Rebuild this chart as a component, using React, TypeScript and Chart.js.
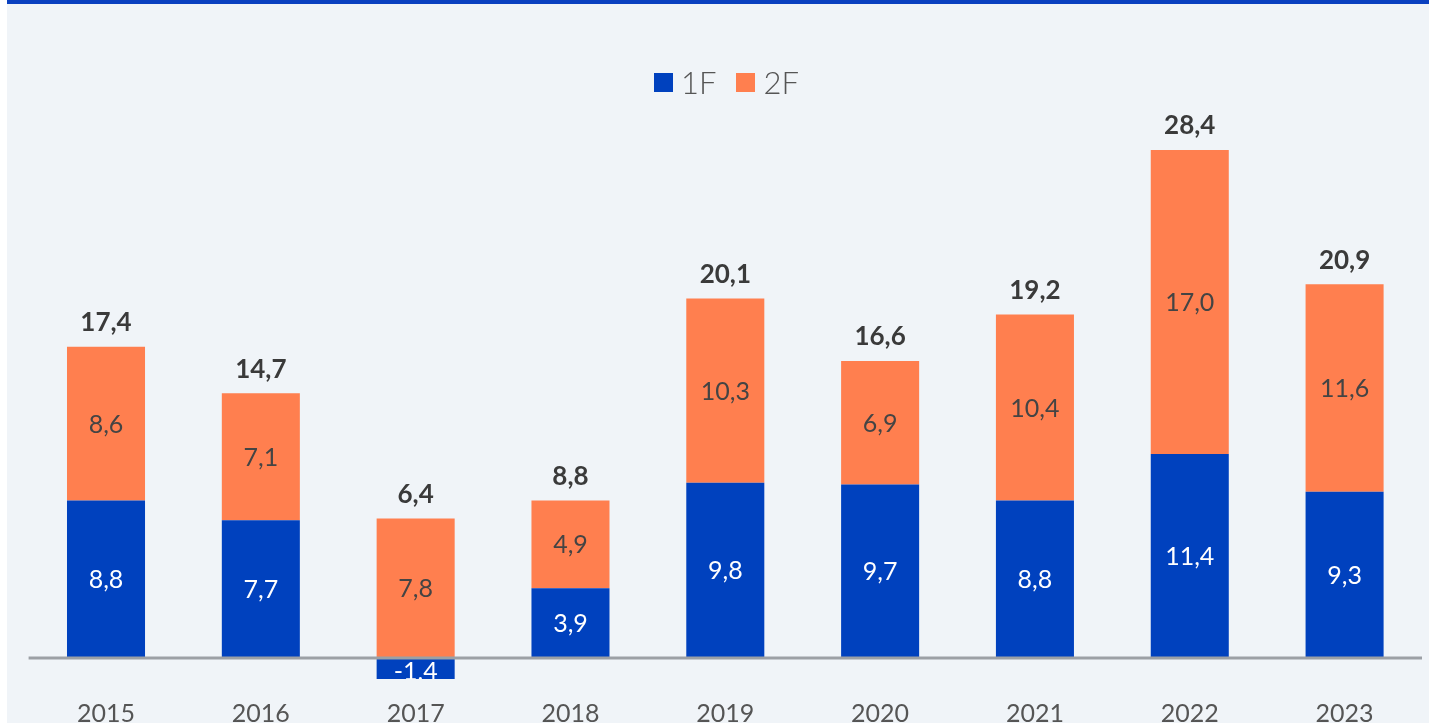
import React, { useEffect, useRef } from "react";
import { Chart, registerables } from "chart.js";

Chart.register(...registerables);

const categories = ["2015", "2016", "2017", "2018", "2019", "2020", "2021", "2022", "2023"];
const series1F = [8.8, 7.7, -1.4, 3.9, 9.8, 9.7, 8.8, 11.4, 9.3];
const series2F = [8.6, 7.1, 7.8, 4.9, 10.3, 6.9, 10.4, 17.0, 11.6];
const totals = [17.4, 14.7, 6.4, 8.8, 20.1, 16.6, 19.2, 28.4, 20.9];
const seriesNames = ["1F", "2F"];

const BLUE = "#0041BE";
const ORANGE = "#FF7F4F";
const COLORS = [BLUE, ORANGE];
const FONT = "Lato, 'Open Sans', sans-serif";

const fmt = (v: number) => v.toFixed(1).replace(".", ",");

const labelPlugin = {
  id: "stackLabels",
  afterDatasetsDraw(chart: any) {
    const { ctx, chartArea, scales } = chart;
    ctx.save();
    ctx.beginPath();
    ctx.rect(chartArea.left, chartArea.top - 80, chartArea.right - chartArea.left, chartArea.bottom - chartArea.top + 80);
    ctx.clip();
    ctx.textAlign = "center";
    ctx.textBaseline = "middle";
    const tops: number[] = [];
    chart.data.datasets.forEach((ds: any, di: number) => {
      const meta = chart.getDatasetMeta(di);
      meta.data.forEach((bar: any, i: number) => {
        const v = ds.data[i];
        const cy = (bar.y + bar.base) / 2;
        ctx.font = `400 25px ${FONT}`;
        ctx.fillStyle = di === 0 ? "#ffffff" : "#444444";
        ctx.fillText(fmt(v), bar.x, cy + 1);
        const top = Math.min(bar.y, bar.base);
        if (tops[i] === undefined || top < tops[i]) tops[i] = top;
      });
    });
    const meta0 = chart.getDatasetMeta(0);
    meta0.data.forEach((bar: any, i: number) => {
      ctx.font = `700 26px ${FONT}`;
      ctx.fillStyle = "#3a3a3a";
      ctx.fillText(fmt(totals[i]), bar.x, tops[i] - 24);
    });
    ctx.restore();
    const y0 = scales.y.getPixelForValue(0);
    ctx.save();
    ctx.strokeStyle = "#9ca0a5";
    ctx.lineWidth = 3;
    ctx.beginPath();
    ctx.moveTo(chartArea.left, y0);
    ctx.lineTo(chartArea.right, y0);
    ctx.stroke();
    ctx.restore();
  },
};

export default function App() {
  const ref = useRef<HTMLCanvasElement>(null);
  useEffect(() => {
    if (!ref.current) return;
    const chart = new Chart(ref.current, {
      type: "bar",
      data: {
        labels: categories,
        datasets: [
          { label: seriesNames[0], data: series1F, backgroundColor: BLUE, borderWidth: 0 },
          { label: seriesNames[1], data: series2F, backgroundColor: ORANGE, borderWidth: 0 },
        ],
      },
      options: {
        animation: false,
        responsive: false,
        maintainAspectRatio: false,
        layout: { padding: { left: 21.6, right: 7, top: 100, bottom: 0 } },
        datasets: { bar: { categoryPercentage: 1, barPercentage: 0.504 } } as any,
        plugins: {
          legend: { display: false },
          tooltip: { enabled: false },
        },
        scales: {
          x: {
            stacked: true,
            grid: { display: false },
            border: { display: false },
            ticks: { color: "#555555", padding: 12, font: { family: FONT, size: 25 } },
            afterFit: (s: any) => { s.height = 44; },
          },
          y: {
            stacked: true,
            display: false,
            min: -1.174,
            max: 30.97,
          },
        },
      },
      plugins: [labelPlugin],
    });
    return () => chart.destroy();
  }, []);
  return (
    <div style={{ position: "fixed", left: 0, top: 0, width: 1429, height: 723, background: "#ffffff", overflow: "hidden" }}>
      <div style={{ position: "absolute", left: 7, top: 0, width: 1422, height: 723, background: "#F0F4F8", borderTop: "4px solid #0A40C0", boxSizing: "border-box", overflow: "hidden" }}>
        <canvas ref={ref} width={1422} height={719} style={{ display: "block" }} />
        <div style={{ position: "absolute", left: 647, top: 63, height: 30, display: "flex", alignItems: "center", fontFamily: FONT, fontWeight: 300, fontSize: 31, color: "#555555", lineHeight: "30px" }}>
          {seriesNames.map((n, i) => (
            <div key={n} style={{ display: "flex", alignItems: "center", marginRight: i === 0 ? 20 : 0 }}>
              <span style={{ display: "inline-block", width: 19, height: 19, background: COLORS[i], marginRight: 8 }} />
              <span>{n}</span>
            </div>
          ))}
        </div>
      </div>
    </div>
  );
}
